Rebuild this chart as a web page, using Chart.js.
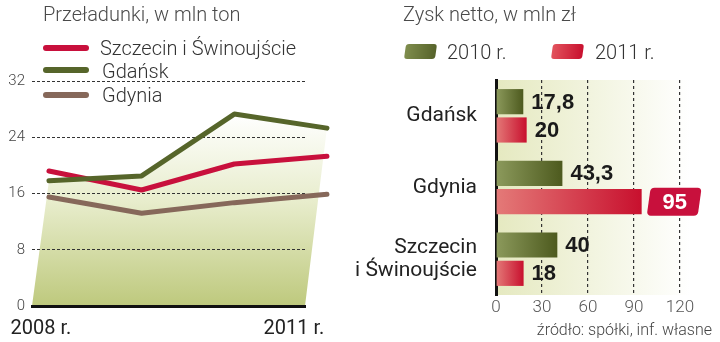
<!DOCTYPE html>
<html>
<head>
<meta charset="utf-8">
<script src="https://cdn.jsdelivr.net/npm/chart.js@4.4.1/dist/chart.umd.min.js"></script>
<style>
  body { margin: 0; width: 720px; height: 342px; position: relative; overflow: hidden; background: #fff;
         font-family: Roboto, "Liberation Sans", sans-serif; }
  canvas { position: absolute; top: 0; }
  #lineChart { left: 0; }
  #barChart { left: 340px; }
  .t { position: absolute; white-space: nowrap; line-height: 1; }
  .title { font-size: 20px; color: #4a4a4a; font-weight: 300; }
  .leg { font-size: 20px; color: #333; font-weight: 300; }
  .sw { position: absolute; height: 6px; width: 46px; border-radius: 3px; }
  .box { position: absolute; width: 31px; height: 15px; border-radius: 3px; transform: skewX(-8deg); }
</style>
</head>
<body>
<canvas id="lineChart" width="340" height="342"></canvas>
<canvas id="barChart" width="380" height="342"></canvas>

<div class="t title" style="left:43px; top:4px;">Przeładunki, w mln ton</div>
<div class="sw" style="left:43px; top:45px; background:#c8103c;"></div>
<div class="t leg" style="left:100px; top:38px;">Szczecin i Świnoujście</div>
<div class="sw" style="left:43px; top:67px; background:#56652a;"></div>
<div class="t leg" style="left:102px; top:61px;">Gdańsk</div>
<div class="sw" style="left:43px; top:92px; background:#86685a;"></div>
<div class="t leg" style="left:102px; top:85px;">Gdynia</div>

<div class="t title" style="left:403px; top:4px;">Zysk netto, w mln zł</div>
<div class="box" style="left:405px; top:44px; background:linear-gradient(90deg,#7f8d4d,#56632a);"></div>
<div class="t title" style="left:447px; top:42px; color:#333;">2010 r.</div>
<div class="box" style="left:552px; top:44px; background:linear-gradient(90deg,#e2535d,#c8102e);"></div>
<div class="t title" style="left:595px; top:42px; color:#333;">2011 r.</div>

<div class="t" style="right:8px; top:322px; font-size:16px; color:#444; font-weight:300;">źródło: spółki, inf. własne</div>

<script>
// przeładunki, mln ton
const years = [2008, 2009, 2010, 2011];
const szczecin = [19.2, 16.5, 20.2, 21.3];
const gdansk = [17.8, 18.5, 27.3, 25.3];
const gdynia = [15.5, 13.2, 14.7, 15.9];
const yTicks = [0, 8, 16, 24, 32];
const yearLabels = ['2008 r.', '2011 r.'];

// zysk netto, mln zł
const ports = ['Gdańsk', 'Gdynia', ['Szczecin', 'i Świnoujście']];
const profit2010 = [17.8, 43.3, 40];
const profit2011 = [20, 95, 18];
const xTicks = [0, 30, 60, 90, 120];

Chart.defaults.font.family = 'Roboto, "Liberation Sans", sans-serif';

const toPoints = (arr) => arr.map((v, i) => ({ x: years[i], y: v }));

// light fill under the Gdańsk line, slanted down to the plot corners
// (drawn before the scales so the dashed grid stays on top of it)
const areaFill = {
  id: 'areaFill',
  beforeDraw(chart) {
    const { ctx, chartArea } = chart;
    const pts = chart.getDatasetMeta(0).data;
    if (!pts.length) return;
    const topY = Math.min(...pts.map(p => p.y));
    const g = ctx.createLinearGradient(0, topY, 0, chartArea.bottom);
    g.addColorStop(0, '#ffffff');
    g.addColorStop(0.45, '#e8edcd');
    g.addColorStop(1, '#bec97d');
    ctx.save();
    ctx.beginPath();
    ctx.moveTo(chartArea.left, chartArea.bottom);
    pts.forEach(p => ctx.lineTo(p.x, p.y));
    ctx.lineTo(chartArea.right, chartArea.bottom);
    ctx.closePath();
    ctx.fillStyle = g;
    ctx.fill();
    ctx.restore();
  }
};

new Chart(document.getElementById('lineChart'), {
  type: 'line',
  data: {
    datasets: [
      { label: 'Gdańsk', data: toPoints(gdansk), borderColor: '#56652a' },
      { label: 'Szczecin i Świnoujście', data: toPoints(szczecin), borderColor: '#c8103c' },
      { label: 'Gdynia', data: toPoints(gdynia), borderColor: '#86685a' }
    ]
  },
  options: {
    responsive: false,
    animation: false,
    layout: { padding: { left: 0, right: 35, top: 81, bottom: 0 } },
    elements: {
      line: { borderWidth: 5, borderCapStyle: 'round', borderJoinStyle: 'round', tension: 0 },
      point: { radius: 0 }
    },
    datasets: { line: { clip: false } },
    plugins: { legend: { display: false }, tooltip: { enabled: false } },
    scales: {
      x: {
        type: 'linear',
        min: 2007.817,
        max: 2010.763,
        afterFit: (s) => { s.height = 36; },
        afterBuildTicks: (s) => { s.ticks = [{ value: 2007.914 }, { value: 2010.644 }]; },
        grid: { display: false },
        border: { display: true, color: '#111', width: 3 },
        ticks: {
          padding: 3,
          color: '#222',
          font: { size: 20 },
          maxRotation: 0,
          callback: (v, i) => yearLabels[i]
        }
      },
      y: {
        min: 0,
        max: 32,
        afterFit: (s) => { s.width = 32; },
        afterBuildTicks: (s) => { s.ticks = yTicks.map(v => ({ value: v })); },
        grid: {
          drawTicks: false,
          color: (c) => c.tick && c.tick.value === 0 ? 'rgba(0,0,0,0)' : '#333',
          lineWidth: 1
        },
        border: { display: false, dash: [3, 2] },
        ticks: { padding: 7, color: '#444', font: { size: 15, weight: 300 } }
      }
    }
  },
  plugins: [areaFill]
});

function barGradient(light, dark) {
  return function (c) {
    const chart = c.chart;
    if (!chart.chartArea || c.type !== 'data') return dark;
    const xs = chart.scales.x;
    const x0 = xs.getPixelForValue(0);
    const x1 = xs.getPixelForValue(c.raw);
    const g = chart.ctx.createLinearGradient(x0, 0, x1, 0);
    g.addColorStop(0, light);
    g.addColorStop(1, dark);
    return g;
  };
}

const plotBackground = {
  id: 'plotBackground',
  beforeDraw(chart) {
    const { ctx, chartArea: a } = chart;
    const g = ctx.createLinearGradient(a.left, 0, a.right + 10, 0);
    g.addColorStop(0, '#e5e9c0');
    g.addColorStop(1, '#ffffff');
    ctx.save();
    ctx.fillStyle = g;
    ctx.fillRect(a.left, a.top, a.right - a.left + 10, a.bottom - a.top);
    ctx.restore();
  }
};

const valueLabels = {
  id: 'valueLabels',
  afterDatasetsDraw(chart) {
    const ctx = chart.ctx;
    const all = chart.data.datasets.flatMap(d => d.data);
    const top = Math.max(...all);
    ctx.save();
    ctx.font = 'bold 22px "Liberation Sans", Arial, sans-serif';
    ctx.textBaseline = 'middle';
    chart.data.datasets.forEach((ds, i) => {
      chart.getDatasetMeta(i).data.forEach((bar, j) => {
        const v = ds.data[j];
        const text = String(v).replace('.', ',');
        const x = bar.x + 7;
        if (v === top) {
          ctx.save();
          ctx.translate(x, bar.y);
          ctx.transform(1, 0, -0.14, 1, 0, 0);
          ctx.beginPath();
          ctx.roundRect(0, -14, 51, 28, 4);
          ctx.fillStyle = '#c8103c';
          ctx.fill();
          ctx.restore();
          ctx.fillStyle = '#fff';
          ctx.textAlign = 'center';
          ctx.fillText(text, x + 26, bar.y + 1);
        } else {
          ctx.fillStyle = '#1a1a1a';
          ctx.textAlign = 'left';
          ctx.fillText(text, bar.x + 8, bar.y + 1);
        }
      });
    });
    ctx.restore();
  }
};

new Chart(document.getElementById('barChart'), {
  type: 'bar',
  data: {
    labels: ports,
    datasets: [
      { label: '2010 r.', data: profit2010, backgroundColor: barGradient('#8c9a5c', '#4d5a1e') },
      { label: '2011 r.', data: profit2011, backgroundColor: barGradient('#e47a78', '#c8102e') }
    ]
  },
  options: {
    indexAxis: 'y',
    responsive: false,
    animation: false,
    layout: { padding: { left: 0, right: 40, top: 80, bottom: 0 } },
    datasets: { bar: { categoryPercentage: 0.79, barPercentage: 0.89 } },
    plugins: { legend: { display: false }, tooltip: { enabled: false } },
    scales: {
      x: {
        min: 0,
        max: 120,
        afterFit: (s) => { s.height = 47; },
        afterBuildTicks: (s) => { s.ticks = xTicks.map(v => ({ value: v })); },
        grid: {
          drawTicks: false,
          color: (c) => c.tick && c.tick.value === 0 ? 'rgba(0,0,0,0)' : '#333',
          lineWidth: 1.2
        },
        border: { display: false, dash: [3, 3] },
        ticks: { padding: 3, color: '#555', font: { size: 17, weight: 300 } }
      },
      y: {
        afterFit: (s) => { s.width = 156; },
        grid: { display: false },
        border: { display: true, color: '#111', width: 3 },
        ticks: { padding: 11, color: '#222', font: { size: 21, lineHeight: 1.1 } }
      }
    }
  },
  plugins: [plotBackground, valueLabels]
});
</script>
</body>
</html>
